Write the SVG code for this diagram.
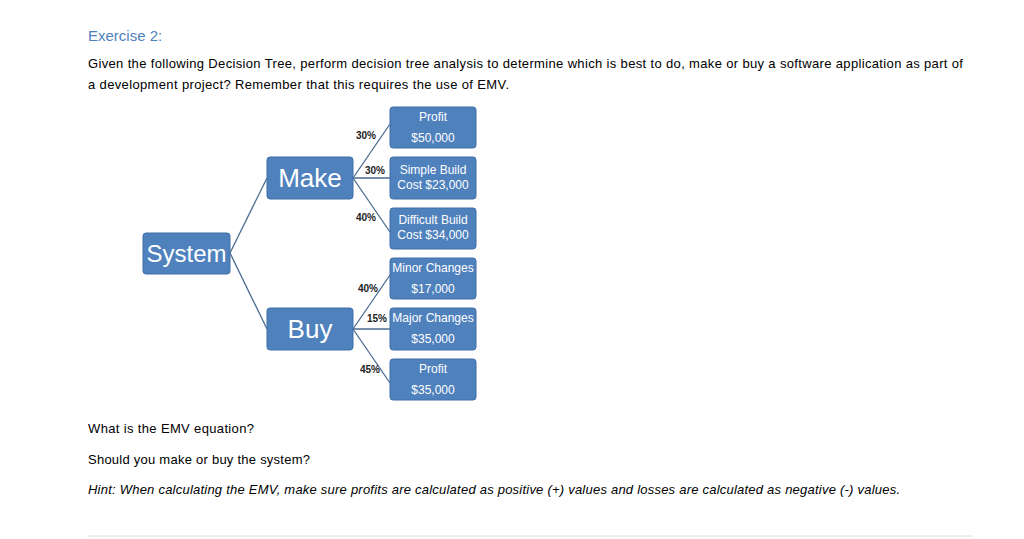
<svg xmlns="http://www.w3.org/2000/svg" width="1024" height="539" viewBox="0 0 1024 539">
<style>
.b{fill:#4f81bd;stroke:#3f6fa8;stroke-width:1}
.w{fill:#fff;font-family:"Liberation Sans",Arial,sans-serif;text-anchor:middle}
.s{font-size:12px}
.p{font-family:"Liberation Sans",Arial,sans-serif;font-size:10px;font-weight:bold;fill:#222;text-anchor:end}
.t{font-family:"Liberation Sans",Arial,sans-serif;font-size:13px;fill:#000}
.c line{stroke:#4a6a92;stroke-width:1.3}
</style>
<rect width="1024" height="539" fill="#fff"/>
<text x="88" y="41" style="font-family:'Liberation Sans',Arial,sans-serif;font-size:15px;fill:#4f81bd">Exercise 2:</text>
<text class="t" x="88" y="68" textLength="875">Given the following Decision Tree, perform decision tree analysis to determine which is best to do, make or buy a software application as part of</text>
<text class="t" x="88" y="89" textLength="421">a development project? Remember that this requires the use of EMV.</text>
<g class="c">
<line x1="230" y1="253" x2="267" y2="178"/><line x1="230" y1="253" x2="267" y2="329"/>
<line x1="353" y1="178" x2="390" y2="124"/><line x1="353" y1="178" x2="390" y2="178"/><line x1="353" y1="178" x2="390" y2="232"/>
<line x1="353" y1="329" x2="390" y2="275"/><line x1="353" y1="329" x2="390" y2="329"/><line x1="353" y1="329" x2="390" y2="383"/>
</g>
<g id="pct">
<text class="p" x="376" y="139">30%</text><text class="p" x="385" y="174">30%</text><text class="p" x="376" y="221">40%</text>
<text class="p" x="378" y="292">40%</text><text class="p" x="387" y="322">15%</text><text class="p" x="380" y="373">45%</text>
</g>
<g id="system"><rect class="b" x="143" y="233" width="87" height="41" rx="3"/><text class="w" x="186.5" y="262" font-size="24">System</text></g>
<g id="make"><rect class="b" x="267" y="157" width="86" height="42" rx="3"/><text class="w" x="310" y="187" font-size="26">Make</text></g>
<g id="buy"><rect class="b" x="267" y="308" width="86" height="42" rx="3"/><text class="w" x="310" y="338" font-size="26">Buy</text></g>
<g id="l1"><rect class="b" x="390" y="107" width="86" height="41" rx="3"/><text class="w s" x="433" y="121">Profit</text><text class="w s" x="433" y="142">$50,000</text></g>
<g id="l2"><rect class="b" x="390" y="157" width="86" height="42" rx="3"/><text class="w s" x="433" y="174">Simple Build</text><text class="w s" x="433" y="189">Cost $23,000</text></g>
<g id="l3"><rect class="b" x="390" y="208" width="86" height="41" rx="3"/><text class="w s" x="433" y="224">Difficult Build</text><text class="w s" x="433" y="239">Cost $34,000</text></g>
<g id="l4"><rect class="b" x="390" y="258" width="86" height="41" rx="3"/><text class="w s" x="433" y="272">Minor Changes</text><text class="w s" x="433" y="293">$17,000</text></g>
<g id="l5"><rect class="b" x="390" y="308" width="86" height="42" rx="3"/><text class="w s" x="433" y="322">Major Changes</text><text class="w s" x="433" y="343">$35,000</text></g>
<g id="l6"><rect class="b" x="390" y="359" width="86" height="41" rx="3"/><text class="w s" x="433" y="373">Profit</text><text class="w s" x="433" y="394">$35,000</text></g>
<text class="t" x="88" y="433" textLength="166">What is the EMV equation?</text>
<text class="t" x="88" y="464" textLength="222">Should you make or buy the system?</text>
<text class="t" x="88" y="494" font-style="italic" textLength="812">Hint: When calculating the EMV, make sure profits are calculated as positive (+) values and losses are calculated as negative (-) values.</text>
<line x1="88" y1="536" x2="972" y2="536" stroke="#ddd"/>
</svg>
